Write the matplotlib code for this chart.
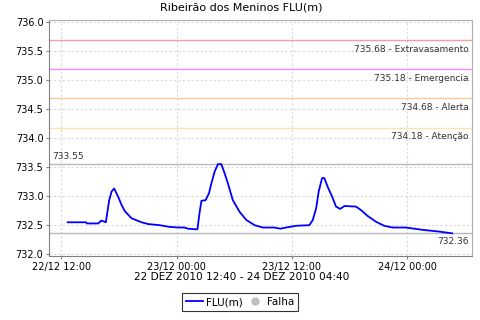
import matplotlib
matplotlib.use("Agg")
import matplotlib.pyplot as plt
import matplotlib.dates as mdates
import pandas as pd

# water level readings (FLU in m)
times = [
    "2010-12-22 12:40", "2010-12-22 14:34", "2010-12-22 14:40", "2010-12-22 15:50",
    "2010-12-22 16:11", "2010-12-22 16:38", "2010-12-22 16:59", "2010-12-22 17:14",
    "2010-12-22 17:30", "2010-12-22 17:55", "2010-12-22 18:16", "2010-12-22 18:37",
    "2010-12-22 19:18", "2010-12-22 20:21", "2010-12-22 21:02", "2010-12-22 22:15",
    "2010-12-22 23:17", "2010-12-23 00:19", "2010-12-23 00:50", "2010-12-23 01:11",
    "2010-12-23 01:53", "2010-12-23 02:10", "2010-12-23 02:24", "2010-12-23 02:35",
    "2010-12-23 03:01", "2010-12-23 03:22", "2010-12-23 03:37", "2010-12-23 03:57",
    "2010-12-23 04:18", "2010-12-23 04:39", "2010-12-23 05:00", "2010-12-23 05:20",
    "2010-12-23 05:51", "2010-12-23 06:33", "2010-12-23 07:15", "2010-12-23 08:07",
    "2010-12-23 08:58", "2010-12-23 10:11", "2010-12-23 10:48", "2010-12-23 11:24",
    "2010-12-23 12:26", "2010-12-23 13:49", "2010-12-23 14:10", "2010-12-23 14:31",
    "2010-12-23 14:47", "2010-12-23 15:08", "2010-12-23 15:22", "2010-12-23 15:43",
    "2010-12-23 16:11", "2010-12-23 16:35", "2010-12-23 17:01", "2010-12-23 17:28",
    "2010-12-23 18:40", "2010-12-23 19:11", "2010-12-23 19:52", "2010-12-23 20:44",
    "2010-12-23 21:36", "2010-12-23 22:28", "2010-12-23 23:51", "2010-12-24 01:35",
    "2010-12-24 03:19", "2010-12-24 04:40",
]
levels = [
    732.55, 732.55, 732.53, 732.53,
    732.58, 732.55, 732.93, 733.08,
    733.13, 732.99, 732.85, 732.74,
    732.62, 732.55, 732.52, 732.50,
    732.47, 732.46, 732.46, 732.44,
    732.43, 732.43, 732.73, 732.92,
    732.93, 733.05, 733.22, 733.42,
    733.55, 733.55, 733.39, 733.22,
    732.93, 732.73, 732.59, 732.50,
    732.46, 732.46, 732.44, 732.46,
    732.49, 732.50, 732.59, 732.79,
    733.08, 733.31, 733.31, 733.16,
    732.99, 732.82, 732.78, 732.83,
    732.82, 732.76, 732.66, 732.56,
    732.49, 732.46, 732.46, 732.42,
    732.39, 732.36,
]
# no failure readings in this period
falha_times = []
falha_levels = []

thresholds = [735.68, 735.18, 734.68, 734.18]
threshold_names = ["Extravasamento", "Emergencia", "Alerta", "Atenção"]
threshold_colors = ["#f0a0a0", "#ff88ff", "#f8c898", "#f8e8a8"]

level_max = 733.55
level_min = 732.36

t = pd.to_datetime(times)
t_start = pd.Timestamp("2010-12-22 10:43")
t_end = pd.Timestamp("2010-12-24 06:43")

fig = plt.figure(figsize=(4.8, 3.2), dpi=100)
ax = fig.add_axes([0.102, 0.2, 0.881, 0.7375])

for val, name, col in zip(thresholds, threshold_names, threshold_colors):
    ax.axhline(val, color=col, lw=1, zorder=2)
    ax.text(0.992, val - 0.08, f"{val:.2f} - {name}", transform=ax.get_yaxis_transform(),
            ha="right", va="top", fontsize=6.5, color="#333333")

ax.axhline(level_max, color="#b8b8b8", lw=1, zorder=2)
ax.axhline(level_min, color="#b8b8b8", lw=1, zorder=2)
ax.text(0.007, level_max + 0.05, f"{level_max:.2f}", transform=ax.get_yaxis_transform(),
        ha="left", va="bottom", fontsize=6.5, color="#333333")
ax.text(0.992, level_min - 0.06, f"{level_min:.2f}", transform=ax.get_yaxis_transform(),
        ha="right", va="top", fontsize=6.5, color="#333333")

ax.plot(t, levels, color="#0000ff", lw=1.3, zorder=3, label="FLU(m)")
ax.plot(pd.to_datetime(falha_times), falha_levels, "o", color="#c0c0c0",
        markersize=5, label="Falha")

ax.set_xlim(t_start, t_end)
ax.set_ylim(731.97, 736.03)
ax.set_yticks([732.0 + 0.5 * i for i in range(9)])
ax.yaxis.set_major_formatter(plt.FormatStrFormatter("%.1f"))
ax.xaxis.set_major_locator(mdates.HourLocator(byhour=[0, 12]))
ax.xaxis.set_major_formatter(mdates.DateFormatter("%d/%m %H:%M"))
ax.tick_params(labelsize=7, length=2, color="#808080", pad=2)

ax.grid(True, color="#d8d8d8", linestyle=(0, (2, 2)), lw=0.8)
ax.set_axisbelow(True)
for side in ["left", "bottom"]:
    ax.spines[side].set_color("#808080")
for side in ["top", "right"]:
    ax.spines[side].set_color("#b0b0b0")

# title and date range are centred on the whole figure
fig.text(0.503, 0.978, "Ribeirão dos Meninos FLU(m)", ha="center", va="center", fontsize=8)
ax.set_xlabel("22 DEZ 2010 12:40 - 24 DEZ 2010 04:40", fontsize=7.6, labelpad=0)
ax.xaxis.label.set_x(0.456)

leg = fig.legend(loc="center", bbox_to_anchor=(0.5, 0.056), ncol=2, fontsize=7.5,
                 frameon=True, fancybox=False, edgecolor="black", handlelength=1.6,
                 handletextpad=0.3, columnspacing=0.4, borderpad=0.35,
                 borderaxespad=0)
leg.get_frame().set_linewidth(0.8)

fig.savefig("out.png", dpi=100)
